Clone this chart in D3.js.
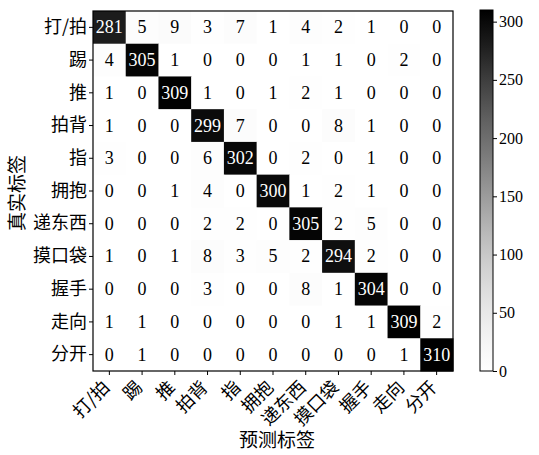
<!DOCTYPE html>
<html>
<head>
<meta charset="utf-8">
<script src="https://cdn.jsdelivr.net/npm/d3@7"></script>
<style>
  html, body { margin: 0; padding: 0; background: #fff; }
  svg { display: block; }
  .num { font-family: "Liberation Serif", "Times New Roman", serif; }
  .cjk { font-family: "Noto Sans CJK SC", "Noto Serif CJK SC", serif; }
</style>
</head>
<body>
<svg id="chart" width="539" height="455"></svg>
<script>
// Action classes (rows = true label, columns = predicted label)
const categories = ["打/拍", "踢", "推", "拍背", "指", "拥抱", "递东西", "摸口袋", "握手", "走向", "分开"];

// Confusion matrix counts, one array per true class
const rowHit   = [281, 5, 9, 3, 7, 1, 4, 2, 1, 0, 0];
const rowKick  = [4, 305, 1, 0, 0, 0, 1, 1, 0, 2, 0];
const rowPush  = [1, 0, 309, 1, 0, 1, 2, 1, 0, 0, 0];
const rowPat   = [1, 0, 0, 299, 7, 0, 0, 8, 1, 0, 0];
const rowPoint = [3, 0, 0, 6, 302, 0, 2, 0, 1, 0, 0];
const rowHug   = [0, 0, 1, 4, 0, 300, 1, 2, 1, 0, 0];
const rowGive  = [0, 0, 0, 2, 2, 0, 305, 2, 5, 0, 0];
const rowPocket= [1, 0, 1, 8, 3, 5, 2, 294, 2, 0, 0];
const rowShake = [0, 0, 0, 3, 0, 0, 8, 1, 304, 0, 0];
const rowWalk  = [1, 1, 0, 0, 0, 0, 0, 1, 1, 309, 2];
const rowApart = [0, 1, 0, 0, 0, 0, 0, 0, 0, 1, 310];
const matrix = [rowHit, rowKick, rowPush, rowPat, rowPoint, rowHug, rowGive, rowPocket, rowShake, rowWalk, rowApart];

const colorbarTicks = [0, 50, 100, 150, 200, 250, 300];
const xTitle = "预测标签";
const yTitle = "真实标签";

const svg = d3.select("#chart");
const plot = { left: 93, top: 11, size: 360 };

const x = d3.scaleBand().domain(categories).range([plot.left, plot.left + plot.size]);
const y = d3.scaleBand().domain(categories).range([plot.top, plot.top + plot.size]);

const vmax = d3.max(matrix.flat());
const color = d3.scaleSequential(d3.interpolateGreys).domain([0, vmax]);

const cells = [];
matrix.forEach((row, i) => row.forEach((v, j) => cells.push({ r: categories[i], c: categories[j], v })));

const g = svg.append("g");

g.selectAll("rect.cell")
  .data(cells)
  .join("rect")
  .attr("class", "cell")
  .attr("x", d => x(d.c))
  .attr("y", d => y(d.r))
  .attr("width", x.bandwidth() + 0.5)
  .attr("height", y.bandwidth() + 0.5)
  .attr("fill", d => color(d.v));

g.selectAll("text.val")
  .data(cells)
  .join("text")
  .attr("class", "val num")
  .attr("x", d => x(d.c) + x.bandwidth() / 2)
  .attr("y", d => y(d.r) + y.bandwidth() / 2)
  .attr("text-anchor", "middle")
  .attr("dominant-baseline", "central")
  .attr("font-size", 18)
  .attr("fill", d => d.v > vmax / 2 ? "#fff" : "#000")
  .text(d => d.v);

// Frame around the matrix
g.append("rect")
  .attr("x", plot.left).attr("y", plot.top)
  .attr("width", plot.size).attr("height", plot.size)
  .attr("fill", "none").attr("stroke", "#000").attr("stroke-width", 1.2);

// Left axis: true labels
const yAxis = svg.append("g")
  .attr("transform", `translate(${plot.left},0)`)
  .call(d3.axisLeft(y).tickSize(4).tickPadding(2));
yAxis.select(".domain").remove();
yAxis.selectAll("text").attr("class", "cjk").attr("font-size", 18).attr("fill", "#000");

// Bottom axis: predicted labels, rotated
const xAxis = svg.append("g")
  .attr("transform", `translate(0,${plot.top + plot.size})`)
  .call(d3.axisBottom(x).tickSize(4).tickPadding(3));
xAxis.select(".domain").remove();
xAxis.selectAll("text")
  .attr("class", "cjk")
  .attr("font-size", 18)
  .attr("fill", "#000")
  .attr("text-anchor", "end")
  .attr("x", 0)
  .attr("y", 0)
  .attr("dy", "0.35em")
  .attr("transform", "translate(-3,13) rotate(-45)");

// Axis titles
svg.append("text")
  .attr("class", "cjk")
  .attr("x", 277)
  .attr("y", 447)
  .attr("text-anchor", "middle")
  .attr("font-size", 19)
  .text(xTitle);

svg.append("text")
  .attr("class", "cjk")
  .attr("transform", `translate(24,193) rotate(-90)`)
  .attr("text-anchor", "middle")
  .attr("font-size", 19)
  .text(yTitle);

// Colorbar
const cb = { x: 480, y: 10, w: 13, h: 361 };
const cbScale = d3.scaleLinear().domain([0, vmax]).range([cb.y + cb.h, cb.y]);

const defs = svg.append("defs");
const grad = defs.append("linearGradient")
  .attr("id", "cbgrad").attr("x1", 0).attr("y1", 1).attr("x2", 0).attr("y2", 0);
d3.range(0, 1.0001, 0.1).forEach(t => {
  grad.append("stop").attr("offset", t).attr("stop-color", color(t * vmax));
});

svg.append("rect")
  .attr("x", cb.x).attr("y", cb.y).attr("width", cb.w).attr("height", cb.h)
  .attr("fill", "url(#cbgrad)")
  .attr("stroke", "#000").attr("stroke-width", 1);

const cbAxis = svg.append("g")
  .attr("transform", `translate(${cb.x + cb.w},0)`)
  .call(d3.axisRight(cbScale).tickValues(colorbarTicks).tickSize(4).tickPadding(2));
cbAxis.select(".domain").remove();
cbAxis.selectAll("text").attr("class", "num").attr("font-size", 16).attr("fill", "#000");
</script>
</body>
</html>
